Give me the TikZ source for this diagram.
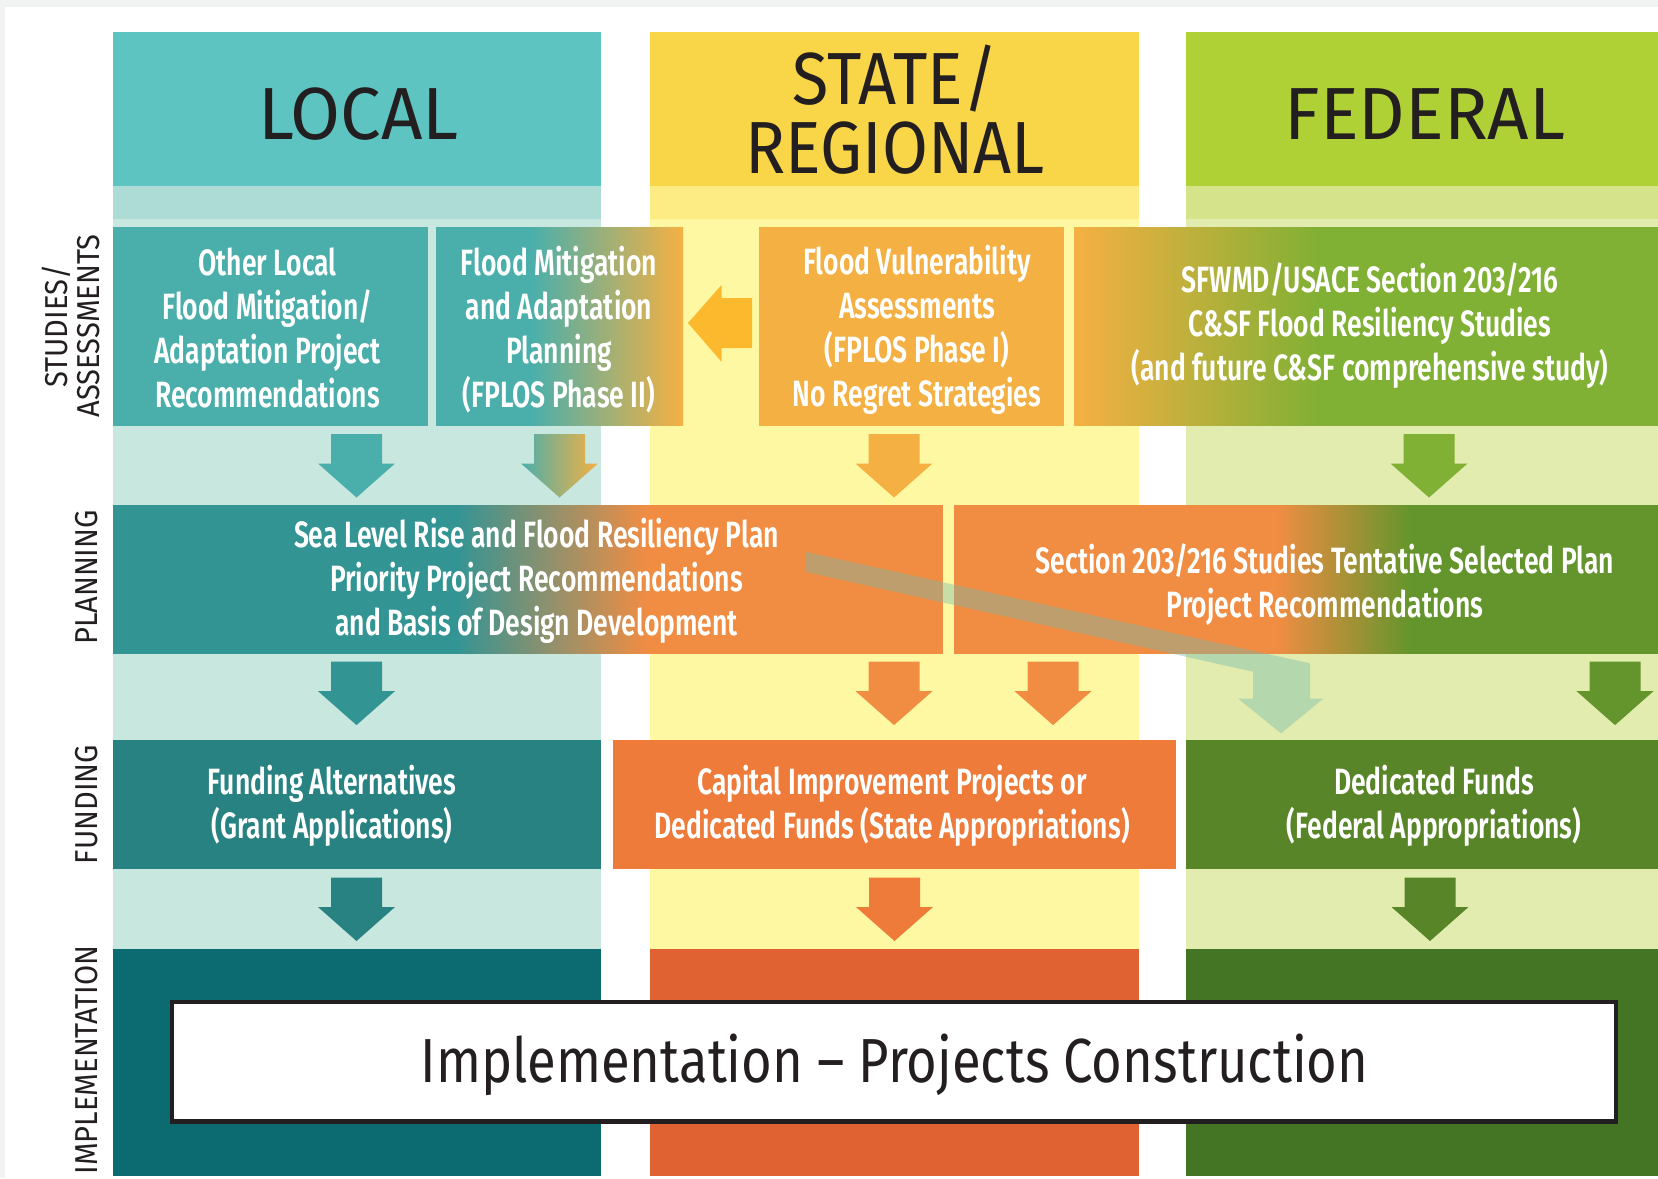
\documentclass[tikz,border=0pt]{standalone}
\usepackage{fontspec}
\setmainfont{Fira Sans}
\newfontfamily\condfont[FakeStretch=0.725]{Fira Sans SemiBold}
\newfontfamily\headfont[FakeStretch=0.98]{Fira Sans}
\newfontfamily\stateheadfont[FakeStretch=0.9]{Fira Sans}
\newfontfamily\labelfont[FakeStretch=0.92]{Fira Sans}
\newfontfamily\implfont[FakeStretch=0.845]{Fira Sans}
%colours
\definecolor{pagegrey}{HTML}{F1F3F2}
\definecolor{darktext}{HTML}{231F20}
\definecolor{lochead}{HTML}{5EC4C2}
\definecolor{locband}{HTML}{ACDCD5}
\definecolor{locbg}{HTML}{C8E7DF}
\definecolor{locstudy}{HTML}{4AAFAB}
\definecolor{locplan}{HTML}{339494}
\definecolor{locfund}{HTML}{288282}
\definecolor{locimpl}{HTML}{0C6B70}
\definecolor{sthead}{HTML}{F9D548}
\definecolor{stband}{HTML}{FDEC83}
\definecolor{stbg}{HTML}{FFF8A2}
\definecolor{ststudy}{HTML}{F5B043}
\definecolor{stplan}{HTML}{F18D43}
\definecolor{stfund}{HTML}{EE7B3A}
\definecolor{stimpl}{HTML}{E06233}
\definecolor{starrow}{HTML}{FCB92D}
\definecolor{fedhead}{HTML}{B0D136}
\definecolor{fedband}{HTML}{D5E48A}
\definecolor{fedbg}{HTML}{E1ECAE}
\definecolor{fedstudy}{HTML}{80B034}
\definecolor{fedplan}{HTML}{64952C}
\definecolor{fedfund}{HTML}{578527}
\definecolor{fedimpl}{HTML}{447525}
\definecolor{bandgreen}{HTML}{74B8AC}
%styles
\tikzstyle{boxtext}=[text=white, font=\condfont\fontsize{10.4}{12.5}\selectfont, align=center, inner sep=0pt]
\tikzstyle{header}=[text=darktext, font=\headfont\fontsize{21}{19.6}\selectfont, align=center, inner sep=0pt]
\tikzstyle{rowlabel}=[text=darktext, font=\labelfont\fontsize{9}{9.1}\selectfont, align=center, rotate=90, inner sep=0pt]
\tikzstyle{implbox}=[draw=darktext, fill=white, line width=0.045cm, minimum width=14.434cm, minimum height=1.195cm, inner sep=0pt]
\tikzstyle{impltext}=[text=darktext, font=\implfont\fontsize{17.7}{20}\selectfont, inner sep=0pt]
\newcommand{\blockdown}[3]{\path[#1] (#2-25.5,#3) -- (#2+25.5,#3) -- (#2+25.5,#3+29.5) -- (#2+38.5,#3+29.5) -- (#2,#3+63.5) -- (#2-38.5,#3+29.5) -- (#2-25.5,#3+29.5) -- cycle;}

\begin{document}
\begin{tikzpicture}[x=0.01cm, y=-0.01cm]
\useasboundingbox (0,0) rectangle (1658,1178);
%page
\fill[pagegrey] (0,0) rectangle (1658,1178);
\fill[white] (5,7) rectangle (1658,1178);
%columns
\foreach \xa/\xb/\ch/\cb/\cg/\ci in {112.5/601/lochead/locband/locbg/locimpl, 649.5/1138.5/sthead/stband/stbg/stimpl, 1185.5/1658/fedhead/fedband/fedbg/fedimpl}{
	\fill[fill=\ch] (\xa,32) rectangle (\xb,185.7);
	\fill[fill=\cb] (\xa,185.7) rectangle (\xb,219);
	\fill[fill=\cg] (\xa,219) rectangle (\xb,949);
	\fill[fill=\ci] (\xa,949) rectangle (\xb,1176);}
%studies row
\fill[locstudy] (112.5,227) rectangle (427.5,425.5);
\fill[locstudy] (436,227) rectangle (531.5,425.5);
\shade[left color=locstudy, right color=ststudy] (531,227) rectangle (683,425.5);
\fill[ststudy] (758.5,227) rectangle (1064,425.5);
\shade[left color=ststudy, right color=fedstudy] (1074,227) rectangle (1320.5,425.5);
\fill[fedstudy] (1320,227) rectangle (1658,425.5);
\fill[starrow] (752,298) -- (721.5,298) -- (721.5,285) -- (688,323) -- (721.5,361.7) -- (721.5,348) -- (752,348) -- cycle;
%planning row
\fill[locplan] (112.5,505) rectangle (456.5,653.5);
\shade[left color=locplan, right color=stplan] (456,505) rectangle (648.5,653.5);
\fill[stplan] (648,505) rectangle (943,653.5);
\fill[stplan] (953.5,505) rectangle (1275.5,653.5);
\shade[left color=stplan, right color=fedplan] (1275,505) rectangle (1410.5,653.5);
\fill[fedplan] (1410,505) rectangle (1658,653.5);
%funding row
\fill[locfund] (112.5,739.5) rectangle (601,869);
\fill[stfund] (613,739.5) rectangle (1176,869);
\fill[fedfund] (1186,739.5) rectangle (1658,869);
%arrows
\foreach \x/\c in {356.5/locstudy, 894/ststudy, 1429/fedstudy}{
	\blockdown{fill=\c}{\x}{434}}
\blockdown{left color=locstudy, right color=ststudy}{559.5}{434}
\foreach \x/\c in {356.5/locplan, 894/stplan, 1053/stplan, 1615/fedplan}{
	\blockdown{fill=\c}{\x}{661.6}}
\foreach \x/\c in {356.5/locfund, 894.5/stfund, 1430/fedfund}{
	\blockdown{fill=\c}{\x}{877.5}}
\fill[bandgreen, opacity=0.4] (805,551.7) -- (1310,663.3) -- (1310,698.5) -- (1323.5,698.5) -- (1281,733.3) -- (1238,698.5) -- (1253,698.5) -- (1253,671.7) -- (805,571.7) -- cycle;
%headers
\node[header, anchor=base] (local) at (358.5,139) {LOCAL};
\node[header, font=\stateheadfont\fontsize{21}{19.6}\selectfont] (state) at (895,109.5) {STATE/\\REGIONAL};
\node[header, anchor=base] (federal) at (1425,139) {FEDERAL};
%row labels
\node[rowlabel] (lstudies) at (71,326) {STUDIES/\\ASSESSMENTS};
\node[rowlabel] (lplanning) at (87,577.5) {PLANNING};
\node[rowlabel] (lfunding) at (87,804.5) {FUNDING};
\node[rowlabel] (limpl) at (87,1060) {IMPLEMENTATION};
%box texts
\node[boxtext] (otherlocal) at (267.5,328) {Other Local\\Flood Mitigation/\\Adaptation Project\\Recommendations};
\node[boxtext] (floodplan) at (559,330) {Flood Mitigation\\and Adaptation\\Planning\\(FPLOS Phase II)};
\node[boxtext] (floodvuln) at (917,330) {Flood Vulnerability\\Assessments\\(FPLOS Phase I)\\No Regret Strategies};
\node[boxtext] (sfwmd) at (1370,326) {SFWMD/USACE Section 203/216\\C\&SF Flood Resiliency Studies\\(and future C\&SF comprehensive study)};
\node[boxtext] (sealevel) at (536.5,580.5) {Sea Level Rise and Flood Resiliency Plan\\Priority Project Recommendations\\and Basis of Design Development};
\node[boxtext] (section) at (1325,584.3) {Section 203/216 Studies Tentative Selected Plan\\Project Recommendations};
\node[boxtext] (fundalt) at (332,806) {Funding Alternatives\\(Grant Applications)};
\node[boxtext] (capital) at (892,806) {Capital Improvement Projects or\\Dedicated Funds (State Appropriations)};
\node[boxtext] (dedicated) at (1434,806) {Dedicated Funds\\(Federal Appropriations)};
%implementation
\node[implbox] (implbox) at (894,1061.75) {};
\node[impltext, anchor=base] (impltext) at (894.5,1082.7) {Implementation – Projects Construction};
\end{tikzpicture}
\end{document}
